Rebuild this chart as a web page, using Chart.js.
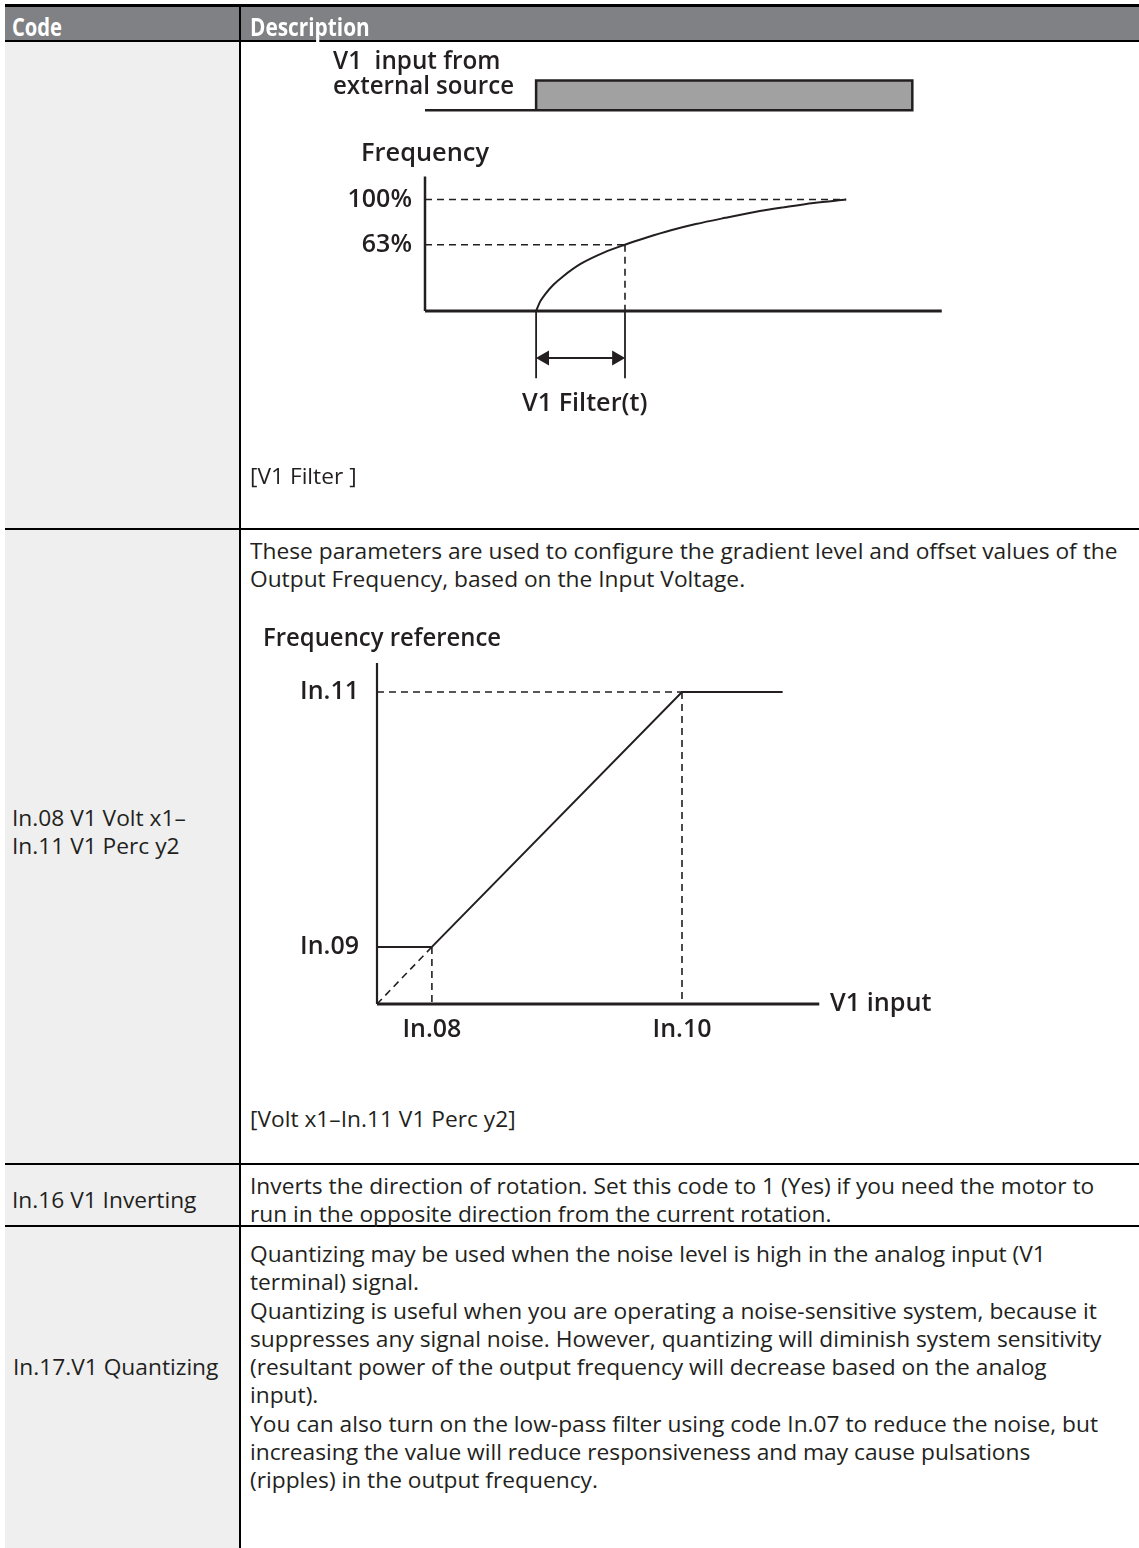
<!DOCTYPE html>
<html><head><meta charset="utf-8">
<script src="https://cdn.jsdelivr.net/npm/chart.js@4.4.1/dist/chart.umd.min.js"></script>
<style>
html,body{margin:0;padding:0;background:#fff;}
body{width:1139px;height:1548px;position:relative;overflow:hidden;font-family:"Open Sans",sans-serif;color:#231f20;}
.box{position:absolute;}
.t{position:absolute;white-space:pre;transform-origin:0 50%;}
.body{font-size:22px;line-height:28px;height:28px;font-weight:400;}
.hd{font-size:25px;line-height:30px;height:30px;font-weight:700;color:#fff;}
.lbl{font-size:25px;line-height:34px;height:34px;font-weight:600;}
canvas{position:absolute;}
</style></head><body>
<div class="box" style="left:5px;top:4px;width:1134px;height:3px;background:#000"></div>
<div class="box" style="left:5px;top:7px;width:1134px;height:33px;background:#808184"></div>
<div class="box" style="left:5px;top:40px;width:1134px;height:2px;background:#000"></div>
<div class="box" style="left:5px;top:42px;width:234px;height:1506px;background:#efefef"></div>
<div class="box" style="left:239px;top:7px;width:2px;height:1541px;background:#000"></div>
<div class="box" style="left:5px;top:528px;width:1134px;height:2px;background:#000"></div>
<div class="box" style="left:5px;top:1163px;width:1134px;height:2px;background:#000"></div>
<div class="box" style="left:5px;top:1225px;width:1134px;height:2px;background:#000"></div>
<canvas id="c1" width="720" height="440" style="left:260px;top:42px"></canvas>
<canvas id="c2" width="700" height="420" style="left:250px;top:650px"></canvas>
<script>
// ---------- Chart 1: V1 filter response ----------
const filterTime = [2.15, 2.23, 2.32, 2.48, 2.67, 3.01, 3.47, 3.87, 4.29, 4.76, 5.24, 5.81, 6.38, 6.95, 7.52, 8.15];
const filterFreq = [0, 8.6, 14.7, 23.3, 31.0, 42.2, 52.6, 59.5, 65.9, 72.4, 78.0, 83.6, 88.8, 93.1, 97.0, 100];
const freqTickValues = [59.5, 100];
const freqTickLabels = ['63%', '100%'];
const inputTime = [0, 2.15, 2.15, 9.43, 9.43, 2.15];
const inputLevel = [180.2, 180.2, 206.9, 206.9, 180.2, 180.2];
const filterAxisEnd = [10, 120.7];     // x-axis end, y-axis top
const filterMarkerDepth = -60.3;       // lower end of the time markers
const filterArrowLevel = -42.2;

// ---------- Chart 2: V1 gain / offset ----------
const v1Volt = [1.8, 10, 13.3];
const v1Perc = [18.3, 100, 100];
const v1TickValues = [1.8, 10];
const v1TickLabels = ['In.08', 'In.10'];
const percTickValues = [18.3, 100];
const percTickLabels = ['In.09', 'In.11'];
const v1AxisEnd = [14.5, 109.3];

const INK = '#231f20';
const tickFont = {family: 'Open Sans', size: 25, weight: '600'};

function seg(x1, y1, x2, y2, w, dash) {
  return {data: [{x: x1, y: y1}, {x: x2, y: y2}], showLine: true, borderColor: INK,
          borderWidth: w, borderDash: dash || [], pointRadius: 0, clip: false, fill: false};
}
function noPad(s) { s.paddingTop = 0; s.paddingBottom = 0; s.paddingLeft = 0; s.paddingRight = 0; }
function baseOpts(xs, ys) {
  return {responsive: false, animation: false, devicePixelRatio: 1, events: [],
    layout: {padding: 0},
    plugins: {legend: {display: false}, tooltip: {enabled: false}},
    scales: {x: xs, y: ys}};
}
const DASH = [7, 5];

const fStart = filterTime[0];
const fTau = filterTime[filterFreq.indexOf(freqTickValues[0])];
const fEnd = filterTime[filterTime.length - 1];
const ds1 = [
  {data: inputTime.map((t, i) => ({x: t, y: inputLevel[i]})), showLine: true, borderColor: INK,
   borderWidth: 2.5, backgroundColor: '#a1a1a1', fill: 'shape', pointRadius: 0, clip: false},
  seg(0, 0, 0, filterAxisEnd[1], 2.5),
  seg(0, 0, filterAxisEnd[0], 0, 3),
  {data: filterTime.map((t, i) => ({x: t, y: filterFreq[i]})), showLine: true, borderColor: INK,
   borderWidth: 2, pointRadius: 0, cubicInterpolationMode: 'monotone', clip: false, fill: false},
  seg(0, freqTickValues[1], fEnd, freqTickValues[1], 1.6, DASH),
  seg(0, freqTickValues[0], fTau, freqTickValues[0], 1.6, DASH),
  seg(fTau, freqTickValues[0], fTau, 0, 1.6, DASH),
  seg(fStart, 0, fStart, filterMarkerDepth, 1.8),
  seg(fTau, 0, fTau, filterMarkerDepth, 1.8),
  seg(fStart + 0.2, filterArrowLevel, fTau - 0.2, filterArrowLevel, 2),
  {data: [{x: fStart + 0.165, y: filterArrowLevel}, {x: fTau - 0.165, y: filterArrowLevel}],
   showLine: false, pointStyle: 'triangle', pointRadius: 8.7, pointBorderWidth: 0,
   pointBackgroundColor: INK, pointBorderColor: INK, pointRotation: [-90, 90], clip: false}
];
new Chart(document.getElementById('c1'), {
  type: 'scatter',
  data: {datasets: ds1},
  options: baseOpts(
    {type: 'linear', min: 0, max: (980 - 425) / 52.5, display: false},
    {type: 'linear', min: (313 - 482) / 1.16, max: (313 - 42) / 1.16,
     grid: {display: false, drawTicks: false}, border: {display: false},
     ticks: {padding: 13, color: INK, font: tickFont, autoSkip: false,
             callback: v => freqTickLabels[freqTickValues.indexOf(v)]},
     afterBuildTicks: s => { s.ticks = freqTickValues.map(v => ({value: v})); },
     afterFit: s => { s.width = 165; noPad(s); }})
});

const ds2 = [
  seg(0, 0, 0, v1AxisEnd[1], 2.2),
  seg(0, 0, v1AxisEnd[0], 0, 3),
  seg(0, v1Perc[0], v1Volt[0], v1Perc[0], 2),
  {data: v1Volt.map((v, i) => ({x: v, y: v1Perc[i]})), showLine: true, borderColor: INK,
   borderWidth: 2, pointRadius: 0, clip: false, fill: false},
  seg(0, v1Perc[1], v1Volt[1], v1Perc[1], 1.6, DASH),
  seg(v1Volt[1], v1Perc[1], v1Volt[1], 0, 1.6, DASH),
  seg(0, 0, v1Volt[0], v1Perc[0], 1.6, DASH),
  seg(v1Volt[0], v1Perc[0], v1Volt[0], 0, 1.6, DASH)
];
new Chart(document.getElementById('c2'), {
  type: 'scatter',
  data: {datasets: ds2},
  options: baseOpts(
    {type: 'linear', min: 0, max: (950 - 377) / 30.5,
     grid: {display: false, drawTicks: false}, border: {display: false},
     ticks: {padding: 11, color: INK, font: tickFont, autoSkip: false, maxRotation: 0,
             callback: v => v1TickLabels[v1TickValues.indexOf(v)]},
     afterBuildTicks: s => { s.ticks = v1TickValues.map(v => ({value: v})); },
     afterFit: s => { s.height = 66; noPad(s); }},
    {type: 'linear', min: 0, max: (1004 - 650) / 3.12,
     grid: {display: false, drawTicks: false}, border: {display: false},
     ticks: {padding: 18, color: INK, font: tickFont, autoSkip: false,
             callback: v => percTickLabels[percTickValues.indexOf(v)]},
     afterBuildTicks: s => { s.ticks = percTickValues.map(v => ({value: v})); },
     afterFit: s => { s.width = 127; noPad(s); }})
});

// ---------- text: [string, left, centre y, fitted width (0 = body scale), class] ----------
const texts = [
  ['Code', 12, 26, 50, 'hd'],
  ['Description', 250, 26, 120, 'hd'],
  ['V1  input from', 333, 59, 168, 'lbl'],
  ['external source', 333, 84, 181, 'lbl'],
  ['Frequency', 361, 151, 128, 'lbl'],
  ['V1 Filter(t)', 522, 401, 125, 'lbl'],
  ['[V1 Filter ]', 250, 475, 0, 'body'],
  ['These parameters are used to configure the gradient level and offset values of the', 250, 550, 0, 'body'],
  ['Output Frequency, based on the Input Voltage.', 250, 578, 0, 'body'],
  ['Frequency reference', 263, 636, 238, 'lbl'],
  ['V1 input', 830, 1001, 102, 'lbl'],
  ['In.08 V1 Volt x1\u2013', 12, 817, 0, 'body'],
  ['In.11 V1 Perc y2', 12, 845, 0, 'body'],
  ['[Volt x1\u2013In.11 V1 Perc y2]', 250, 1118, 0, 'body'],
  ['In.16 V1 Inverting', 12, 1199, 0, 'body'],
  ['Inverts the direction of rotation. Set this code to 1 (Yes) if you need the motor to', 250, 1185, 0, 'body'],
  ['run in the opposite direction from the current rotation.', 250, 1213, 0, 'body'],
  ['Quantizing may be used when the noise level is high in the analog input (V1', 250, 1253, 0, 'body'],
  ['terminal) signal.', 250, 1281, 0, 'body'],
  ['Quantizing is useful when you are operating a noise-sensitive system, because it', 250, 1310, 0, 'body'],
  ['suppresses any signal noise. However, quantizing will diminish system sensitivity', 250, 1338, 0, 'body'],
  ['(resultant power of the output frequency will decrease based on the analog', 250, 1366, 0, 'body'],
  ['In.17.V1 Quantizing', 13, 1366, 0, 'body'],
  ['input).', 250, 1394, 0, 'body'],
  ['You can also turn on the low-pass filter using code In.07 to reduce the noise, but', 250, 1423, 0, 'body'],
  ['increasing the value will reduce responsiveness and may cause pulsations', 250, 1451, 0, 'body'],
  ['(ripples) in the output frequency.', 250, 1479, 0, 'body']
];
const LH = {body: 28, hd: 30, lbl: 34};
const els = texts.map(([s, x, cy, w, cls]) => {
  const d = document.createElement('div');
  d.className = 't ' + cls;
  d.textContent = s;
  d.style.left = x + 'px';
  d.style.top = (cy - LH[cls] / 2) + 'px';
  document.body.appendChild(d);
  return d;
});
// one common horizontal scale for body text, from the widest line (about 868 px in the reference)
const bodyScale = 868 / els[7].offsetWidth;
els.forEach((d, i) => {
  const w = texts[i][3];
  const nw = d.offsetWidth;
  const k = w > 0 ? w / nw : bodyScale;
  d.style.transform = 'scaleX(' + k.toFixed(4) + ')';
});
</script>
</body></html>
